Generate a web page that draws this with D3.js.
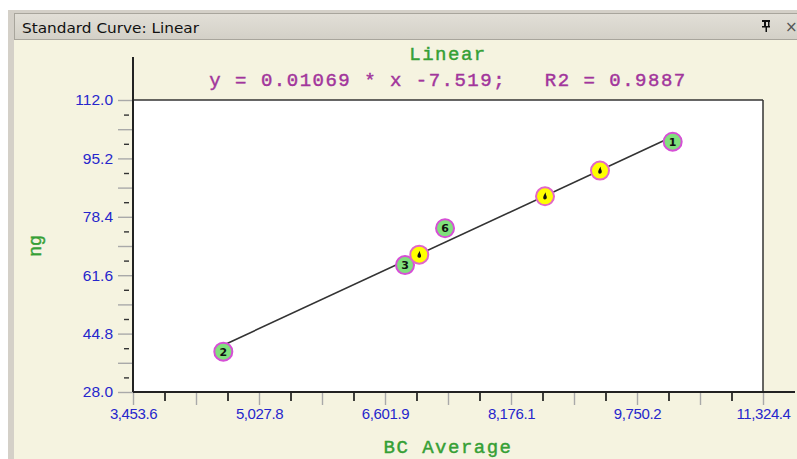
<!DOCTYPE html>
<html>
<head>
<meta charset="utf-8">
<script src="https://cdn.jsdelivr.net/npm/d3@7"></script>
<style>
  html, body { margin: 0; padding: 0; background: #ffffff; }
  svg { display: block; }
</style>
</head>
<body>
<svg id="chart" width="797" height="459"></svg>
<script>
// Standard curve data (BC Average vs ng)
const standardIds = ["1", "2", "3", "6"];
const standardX = [10196, 4582, 6852, 7352];
const standardY = [100.0, 39.6, 64.5, 75.1];

// Unknown samples
const unknownX = [7030, 8601, 9288];
const unknownY = [67.5, 84.3, 91.7];

// Fit shown in the header
const fitSlope = 0.01069;
const fitIntercept = -7.519;
const fitR2 = 0.9887;

// Axis tick values (labelled)
const xTickValues = [3453.6, 5027.8, 6601.9, 8176.1, 9750.2, 11324.4];
const yTickValues = [28.0, 44.8, 61.6, 78.4, 95.2, 112.0];

const titleText = "Standard Curve: Linear";
const chartTitle = "Linear";
const xAxisTitle = "BC Average";
const yAxisTitle = "ng";

const W = 797, H = 459;
const plot = { left: 133, right: 763, top: 100, bottom: 392 };

const svg = d3.select("#chart");

// Window chrome
svg.append("rect").attr("x", 0).attr("y", 0).attr("width", W).attr("height", H).attr("fill", "#ffffff");
svg.append("rect").attr("x", 8).attr("y", 10).attr("width", W - 8).attr("height", H - 10).attr("fill", "#d4d0c8");
svg.append("rect").attr("x", 14).attr("y", 40).attr("width", W - 14).attr("height", H - 40).attr("fill", "#f5f3e0");

const grad = svg.append("defs").append("linearGradient")
  .attr("id", "titlebar").attr("x1", 0).attr("x2", 0).attr("y1", 0).attr("y2", 1);
grad.append("stop").attr("offset", "0%").attr("stop-color", "#e2dfd7");
grad.append("stop").attr("offset", "100%").attr("stop-color", "#d3d0c7");

svg.append("rect").attr("x", 14.5).attr("y", 13.5).attr("width", W - 14).attr("height", 26)
  .attr("fill", "url(#titlebar)").attr("stroke", "#a8a59c").attr("stroke-width", 1);

svg.append("text").attr("x", 22).attr("y", 33)
  .attr("font-family", "DejaVu Sans, sans-serif").attr("font-size", 14)
  .attr("textLength", 177).attr("lengthAdjust", "spacingAndGlyphs")
  .attr("fill", "#111").text(titleText);

// Pin and close glyphs on the title bar
const pin = svg.append("g").attr("transform", "translate(766,25)").attr("fill", "#111");
pin.append("rect").attr("x", -4).attr("y", -5).attr("width", 8).attr("height", 2);
pin.append("rect").attr("x", -2).attr("y", -5).attr("width", 2).attr("height", 7);
pin.append("rect").attr("x", 2).attr("y", -5).attr("width", 1.5).attr("height", 7);
pin.append("rect").attr("x", -4).attr("y", 1).attr("width", 8).attr("height", 1.5);
pin.append("rect").attr("x", -0.5).attr("y", 2).attr("width", 1.5).attr("height", 5);
svg.append("text").attr("x", 785).attr("y", 32)
  .attr("font-family", "DejaVu Sans, sans-serif").attr("font-size", 15)
  .attr("fill", "#555").text("×");

// Scales
const x = d3.scaleLinear()
  .domain([xTickValues[0], xTickValues[xTickValues.length - 1]])
  .range([plot.left, plot.right]);
const y = d3.scaleLinear()
  .domain([yTickValues[0], yTickValues[yTickValues.length - 1]])
  .range([plot.bottom, plot.top]);

// Plot area
svg.append("rect").attr("x", plot.left).attr("y", plot.top)
  .attr("width", plot.right - plot.left).attr("height", plot.bottom - plot.top)
  .attr("fill", "#ffffff");

// Subdivide each labelled interval into quarters: halves get long grey ticks, quarters short dark ticks
function subTicks(values) {
  const halves = [], quarters = [];
  for (let i = 0; i < values.length - 1; i++) {
    const a = values[i], b = values[i + 1], s = (b - a) / 4;
    halves.push(a + 2 * s);
    quarters.push(a + s, a + 3 * s);
  }
  return { halves: values.concat(halves), quarters };
}
const xs = subTicks(xTickValues);
const ys = subTicks(yTickValues);

const tickLabelFont = "Liberation Sans, Arial, sans-serif";
const tickLabelColor = "#2626cc";

// X axis ticks
const xAxisLong = d3.axisBottom(x).tickValues(xs.halves).tickSize(13).tickFormat("");
const gxl = svg.append("g").attr("transform", `translate(0,${plot.bottom})`).call(xAxisLong);
gxl.select(".domain").remove();
gxl.selectAll(".tick line").attr("stroke", "#a9a9a9").attr("stroke-width", 1.4);

const xAxisShort = d3.axisBottom(x).tickValues(xs.quarters).tickSize(9).tickFormat("");
const gxs = svg.append("g").attr("transform", `translate(0,${plot.bottom})`).call(xAxisShort);
gxs.select(".domain").remove();
gxs.selectAll(".tick line").attr("stroke", "#111").attr("stroke-width", 1.6);

const xAxisLabels = d3.axisBottom(x).tickValues(xTickValues).tickSize(0).tickPadding(16)
  .tickFormat(d3.format(",.1f"));
const gxt = svg.append("g").attr("transform", `translate(0,${plot.bottom})`).call(xAxisLabels);
gxt.select(".domain").remove();
gxt.selectAll(".tick text").attr("font-family", tickLabelFont).attr("font-size", 15)
  .attr("letter-spacing", -0.4).attr("fill", tickLabelColor);

// Y axis ticks
const yAxisLong = d3.axisLeft(y).tickValues(ys.halves).tickSize(15).tickFormat("");
const gyl = svg.append("g").attr("transform", `translate(${plot.left},0)`).call(yAxisLong);
gyl.select(".domain").remove();
gyl.selectAll(".tick line").attr("stroke", "#a9a9a9").attr("stroke-width", 1.4);

const yAxisShort = d3.axisLeft(y).tickValues(ys.quarters).tickSize(5).tickFormat("");
const gys = svg.append("g").attr("transform", `translate(${plot.left - 4},0)`).call(yAxisShort);
gys.select(".domain").remove();
gys.selectAll(".tick line").attr("stroke", "#333").attr("stroke-width", 1.4);

const yAxisLabels = d3.axisLeft(y).tickValues(yTickValues).tickSize(0).tickPadding(20)
  .tickFormat(d3.format(".1f"));
const gyt = svg.append("g").attr("transform", `translate(${plot.left},0)`).call(yAxisLabels);
gyt.select(".domain").remove();
gyt.selectAll(".tick text").attr("font-family", tickLabelFont).attr("font-size", 15.5)
  .attr("fill", tickLabelColor);

// Frame: top and right borders, then the axis lines
svg.append("line").attr("x1", plot.left).attr("x2", plot.right).attr("y1", plot.top).attr("y2", plot.top)
  .attr("stroke", "#333").attr("stroke-width", 1.5);
svg.append("line").attr("x1", plot.right).attr("x2", plot.right).attr("y1", plot.top).attr("y2", plot.bottom)
  .attr("stroke", "#333").attr("stroke-width", 1.5);
svg.append("line").attr("x1", plot.left).attr("x2", 795).attr("y1", plot.bottom).attr("y2", plot.bottom)
  .attr("stroke", "#222").attr("stroke-width", 2);
svg.append("line").attr("x1", plot.left).attr("x2", plot.left).attr("y1", 57).attr("y2", plot.bottom)
  .attr("stroke", "#222").attr("stroke-width", 2);

// Fitted line across the range of the standards
const xMin = d3.min(standardX), xMax = d3.max(standardX);
const fit = v => fitSlope * v + fitIntercept;
svg.append("path")
  .datum([xMin, xMax])
  .attr("d", d3.line().x(d => x(d)).y(d => y(fit(d))))
  .attr("fill", "none").attr("stroke", "#333").attr("stroke-width", 1.6);

// Standards (green) and unknowns (yellow)
const standards = standardIds.map((id, i) => ({ id, x: standardX[i], y: standardY[i] }));
const unknowns = unknownX.map((v, i) => ({ x: v, y: unknownY[i] }));

const gs = svg.append("g").selectAll("g").data(standards).join("g")
  .attr("transform", d => `translate(${x(d.x)},${y(d.y)})`);
gs.append("circle").attr("r", 9).attr("fill", "#80e07c").attr("stroke", "#d64fd6").attr("stroke-width", 2);
gs.append("text").attr("text-anchor", "middle").attr("dy", "0.37em")
  .attr("font-family", "DejaVu Sans, sans-serif").attr("font-size", 11).attr("font-weight", "bold")
  .attr("fill", "#111").text(d => d.id);

const gu = svg.append("g").selectAll("g").data(unknowns).join("g")
  .attr("transform", d => `translate(${x(d.x)},${y(d.y)})`);
gu.append("circle").attr("r", 9).attr("fill", "#ffff00").attr("stroke", "#e266c8").attr("stroke-width", 2);
gu.append("path")
  .attr("d", "M0.6,-4 C-0.8,-1.5 -2.4,0.6 -1.6,2.4 C-0.8,3.8 1.8,3.2 1.8,1.2 C1.8,-0.4 0.6,-1.4 0.6,-4 Z")
  .attr("fill", "#111");

// Header texts (monospace, slightly thickened with a hairline stroke)
const mono = "Liberation Mono, Courier New, monospace";
const cx = (plot.left + plot.right) / 2;
function monoText(sel, color) {
  return sel.attr("font-family", mono).attr("font-size", 19).attr("letter-spacing", 1.5)
    .attr("fill", color).attr("stroke", color).attr("stroke-width", 0.45);
}
monoText(svg.append("text").attr("x", cx).attr("y", 60).attr("text-anchor", "middle"), "#35a035")
  .text(chartTitle);
monoText(svg.append("text").attr("x", cx).attr("y", 86).attr("text-anchor", "middle"), "#a2359c")
  .attr("xml:space", "preserve").style("white-space", "pre")
  .text(`y = ${fitSlope} * x ${fitIntercept};   R2 = ${fitR2}`);

// Axis titles
monoText(svg.append("text").attr("x", cx).attr("y", 453).attr("text-anchor", "middle"), "#35a035")
  .text(xAxisTitle);
monoText(svg.append("text").attr("transform", "translate(41,246) rotate(-90)").attr("text-anchor", "middle"), "#35a035")
  .attr("font-size", 18).attr("letter-spacing", 0).text(yAxisTitle);
</script>
</body>
</html>
